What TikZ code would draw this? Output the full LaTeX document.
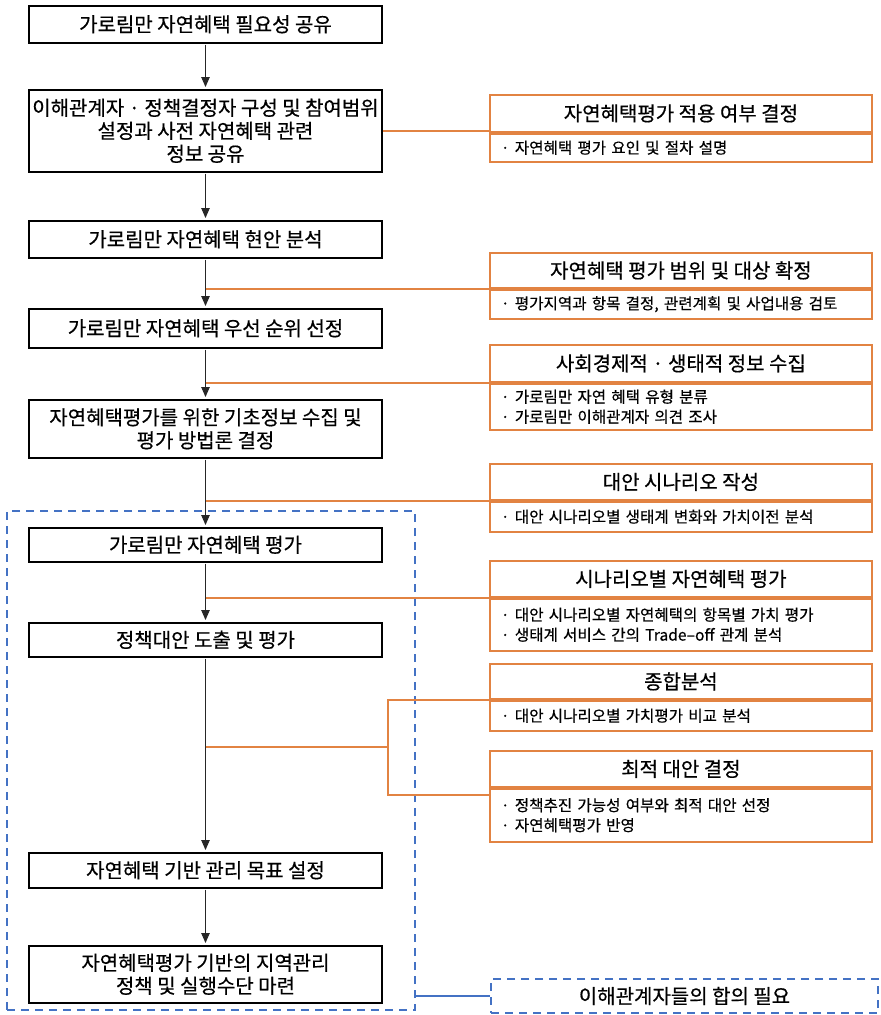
\documentclass[tikz,border=0pt]{standalone}
\usepackage{fontspec}
\setmainfont{Noto Sans CJK KR}[FakeBold=0.5]
\usetikzlibrary{arrows.meta,calc}
\definecolor{orng}{RGB}{226,131,66}
\definecolor{dblue}{RGB}{68,114,196}
\begin{document}
\begin{tikzpicture}[x=1bp,y=-1bp,
  mainbox/.style={draw=black, line width=1.6bp, minimum width=353bp, align=center,
    font=\fontsize{20bp}{23bp}\selectfont, inner sep=0pt, anchor=north},
  rtitle/.style={draw=orng, line width=1.8bp, minimum width=382bp, inner sep=0pt,
    font=\fontsize{20bp}{23bp}\selectfont, anchor=north west},
  rbody/.style={draw=orng, line width=1.8bp, text width=360bp, inner xsep=11bp, inner ysep=0pt,
    align=left, font=\fontsize{15.6bp}{20bp}\selectfont, anchor=north west},
  arr/.style={draw=black!85, line width=0.9bp, -{Triangle[width=8.5bp,length=10bp]}, shorten >=2bp, shorten <=1bp},
  oline/.style={draw=orng, line width=1.8bp},
  bdash/.style={draw=dblue, line width=1.6bp, dash pattern=on 8bp off 6bp}
]
\useasboundingbox (0,0) rectangle (881,1015);

% left column
\node[mainbox, minimum height=37bp] (b1) at (205.5,5) {가로림만 자연혜택 필요성 공유};
\node[mainbox, minimum height=82bp] (b2) at (205.5,89) {이해관계자 · 정책결정자 구성 및 참여범위\\설정과 사전 자연혜택 관련\\정보 공유};
\node[mainbox, minimum height=37bp] (b3) at (205.5,220) {가로림만 자연혜택 현안 분석};
\node[mainbox, minimum height=39bp] (b4) at (205.5,308) {가로림만 자연혜택 우선 순위 선정};
\node[mainbox, minimum height=58bp] (b5) at (205.5,399) {자연혜택평가를 위한 기초정보 수집 및\\평가 방법론 결정};
\node[mainbox, minimum height=34bp] (b6) at (205.5,527) {가로림만 자연혜택 평가};
\node[mainbox, minimum height=34bp] (b7) at (205.5,622) {정책대안 도출 및 평가};
\node[mainbox, minimum height=35bp] (b8) at (205.5,852) {자연혜택 기반 관리 목표 설정};
\node[mainbox, minimum height=57bp] (b9) at (205.5,945) {자연혜택평가 기반의 지역관리\\정책 및 실행수단 마련};

% dashed group
\node[bdash, minimum width=408bp, minimum height=499bp, inner sep=0pt] (grp) at (211,760.5) {};

% right column
\node[rtitle, minimum height=37bp] (r1t) at (489,94) {자연혜택평가 적용 여부 결정};
\node[rbody, minimum height=28bp] (r1b) at (r1t.south west) {· 자연혜택 평가 요인 및 절차 설명};
\node[rtitle, minimum height=35bp] (r2t) at (489,252) {자연혜택 평가 범위 및 대상 확정};
\node[rbody, minimum height=29bp] (r2b) at (r2t.south west) {· 평가지역과 항목 결정, 관련계획 및 사업내용 검토};
\node[rtitle, minimum height=37bp] (r3t) at (489,344) {사회경제적 · 생태적 정보 수집};
\node[rbody, minimum height=46bp] (r3b) at (r3t.south west) {· 가로림만 자연 혜택 유형 분류\\· 가로림만 이해관계자 의견 조사};
\node[rtitle, minimum height=36bp] (r4t) at (489,463) {대안 시나리오 작성};
\node[rbody, minimum height=30bp] (r4b) at (r4t.south west) {· 대안 시나리오별 생태계 변화와 가치이전 분석};
\node[rtitle, minimum height=36bp] (r5t) at (489,560) {시나리오별 자연혜택 평가};
\node[rbody, minimum height=52bp] (r5b) at (r5t.south west) {· 대안 시나리오별 자연혜택의 항목별 가치 평가\\· 생태계 서비스 간의 Trade–off 관계 분석};
\node[rtitle, minimum height=35bp] (r6t) at (489,663) {종합분석};
\node[rbody, minimum height=30bp] (r6b) at (r6t.south west) {· 대안 시나리오별 가치평가 비교 분석};
\node[rtitle, minimum height=36bp] (r7t) at (489,750) {최적 대안 결정};
\node[rbody, minimum height=53bp] (r7b) at (r7t.south west) {· 정책추진 가능성 여부와 최적 대안 선정\\· 자연혜택평가 반영};

% agreement box
\node[bdash, minimum width=387bp, minimum height=34bp, inner sep=0pt,
  font=\fontsize{20bp}{23bp}\selectfont] (agree) at (684.5,996) {이해관계자들의 합의 필요};

% arrows
\draw[arr] (b1) -- (b2);
\draw[arr] (b2) -- (b3);
\draw[arr] (b3) -- (b4);
\draw[arr] (b4) -- (b5);
\draw[arr] (b5) -- (b6);
\draw[arr] (b6) -- (b7);
\draw[arr] (b7) -- (b8);
\draw[arr] (b8) -- (b9);

% orange connectors
\draw[oline] (b2.east) -- (b2.east -| r1t.west);
\draw[oline] (b3.south |- r2t.south west) -- (r2t.south west);
\draw[oline] (b4.south |- r3t.south west) -- (r3t.south west);
\draw[oline] (b5.south |- r4t.south west) -- (r4t.south west);
\draw[oline] (b6.south |- r5t.south west) -- (r5t.south west);
\coordinate (brk) at (388,747);
\draw[oline] (r6t.south west) -| (brk) |- ([yshift=-7bp]r7t.south west);
\draw[oline] (b7.south |- brk) -- (brk);

% blue connector
\draw[draw=dblue, line width=1.8bp] (grp.east |- agree.west) -- (agree.west);
\end{tikzpicture}
\end{document}
